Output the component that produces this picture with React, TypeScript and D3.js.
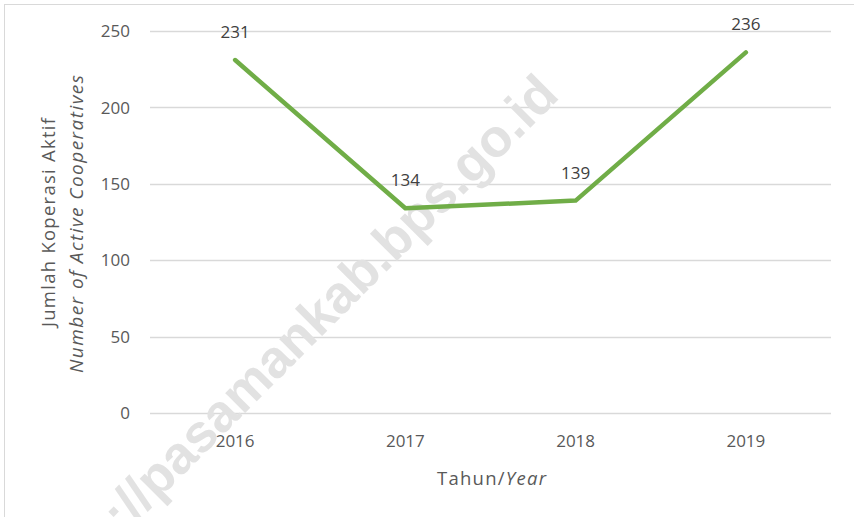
import React from "react";
import * as d3 from "d3";

const years = ["2016", "2017", "2018", "2019"];
const activeCoops = [231, 134, 139, 236];
const yTicks = [0, 50, 100, 150, 200, 250];
const yTitleLine1 = "Jumlah Koperasi Aktif";
const yTitleLine2 = "Number of Active Cooperatives";
const xTitleMain = "Tahun/";
const xTitleItalic = "Year";
const watermark = "http://pasamankab.bps.go.id";

const W = 854;
const H = 517;
const FONT = "'Open Sans', 'Noto Sans', sans-serif";

export default function App() {
  const x = d3.scaleBand<string>().domain(years).range([150, 831]);
  const y = d3.scaleLinear().domain([0, 250]).range([413, 31]);
  const cx = (d: string) => (x(d) ?? 0) + x.bandwidth() / 2;
  const line = d3
    .line<number>()
    .x((_, i) => cx(years[i]))
    .y((d) => y(d));
  const midY = (y(0) + y(250)) / 2;
  const midX = (x.range()[0] + x.range()[1]) / 2;

  return (
    <svg
      width={W}
      height={H}
      style={{ position: "absolute", left: 0, top: 0, background: "#fff" }}
      fontFamily={FONT}
    >
      <rect x={0} y={0} width={W} height={H} fill="#fff" />
      <rect x={4.5} y={4.5} width={W + 10} height={H + 10} fill="none" stroke="#d9d9d9" strokeWidth={1} />
      {yTicks.map((t) => (
        <g key={t}>
          <line x1={150} x2={831} y1={Math.round(y(t)) + 0.5} y2={Math.round(y(t)) + 0.5} stroke="#d9d9d9" strokeWidth={1.3} />
          <text x={130} y={y(t)} dy="0.36em" textAnchor="end" fontSize={17} fill="#595959">
            {t}
          </text>
        </g>
      ))}
      <text
        transform="translate(561,97) rotate(-45)"
        textAnchor="end"
        fontFamily="'Liberation Sans', Arial, sans-serif"
        fontWeight="bold"
        fontSize={53}
        fill="#e2e2e2"
      >
        {watermark}
      </text>
      {years.map((yr) => (
        <text key={yr} x={cx(yr)} y={446.5} textAnchor="middle" fontSize={17} fill="#595959">
          {yr}
        </text>
      ))}
      <path
        d={line(activeCoops) ?? ""}
        fill="none"
        stroke="#70ad47"
        strokeWidth={4.5}
        strokeLinecap="round"
        strokeLinejoin="round"
      />
      {activeCoops.map((v, i) => (
        <text key={i} x={cx(years[i])} y={y(v) - 22} textAnchor="middle" fontSize={17} fill="#404040">
          {v}
        </text>
      ))}
      <text
        x={midX + 1}
        y={485}
        textAnchor="middle"
        fontSize={18.5}
        fill="#595959"
        textLength={109}
        lengthAdjust="spacing"
      >
        {xTitleMain}
        <tspan fontStyle="italic">{xTitleItalic}</tspan>
      </text>
      <text
        transform={`translate(55,${midY + 0.5}) rotate(-90)`}
        textAnchor="middle"
        fontSize={18.5}
        fill="#595959"
        textLength={209}
        lengthAdjust="spacing"
      >
        {yTitleLine1}
      </text>
      <text
        transform={`translate(83,${midY + 2}) rotate(-90)`}
        textAnchor="middle"
        fontSize={19}
        fontStyle="italic"
        fill="#595959"
        textLength={298}
        lengthAdjust="spacing"
      >
        {yTitleLine2}
      </text>
    </svg>
  );
}
